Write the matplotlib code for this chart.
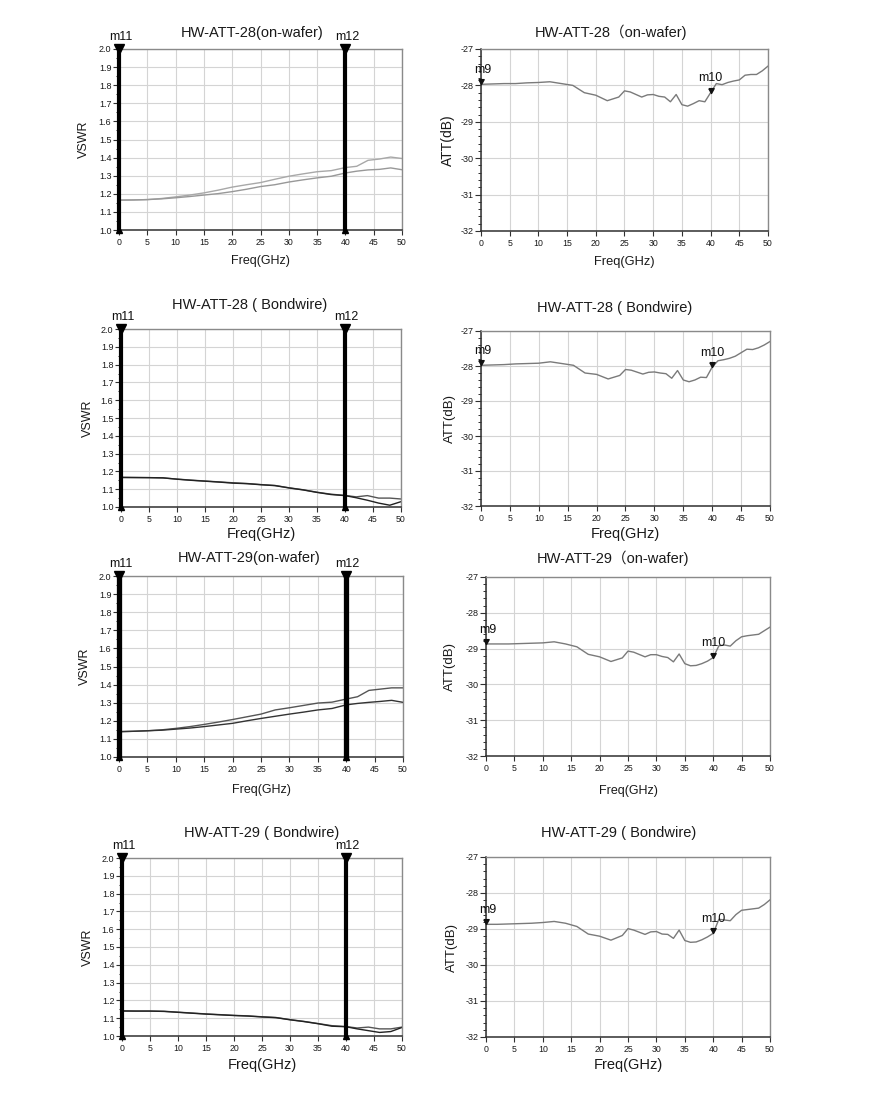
import numpy as np
import matplotlib
matplotlib.use("Agg")
import matplotlib.pyplot as plt
from matplotlib.ticker import MultipleLocator

plt.rcParams["font.family"] = ["Liberation Sans", "Noto Sans CJK SC", "DejaVu Sans"]
plt.rcParams["axes.unicode_minus"] = False

W, H = 879, 1101

# -------------------------------
# VSWR data (two traces per panel)
# -------------------------------
F_VSWR = [0, 2.5, 5, 7.5, 10, 12.5, 15, 17.5, 20, 22.5, 25, 27.5, 30,
          32.5, 35, 37.5, 40, 42, 44, 46, 48, 50]

VSWR_28_WAFER_A = [1.165, 1.166, 1.168, 1.174, 1.183, 1.193, 1.205, 1.220, 1.237, 1.250, 1.262,
                   1.280, 1.297, 1.310, 1.322, 1.328, 1.345, 1.352, 1.385, 1.392, 1.403, 1.395]
VSWR_28_WAFER_B = [1.165, 1.166, 1.168, 1.172, 1.178, 1.185, 1.193, 1.201, 1.212, 1.225, 1.240,
                   1.250, 1.265, 1.277, 1.288, 1.297, 1.315, 1.325, 1.332, 1.335, 1.343, 1.333]

VSWR_28_BOND_A = [1.165, 1.165, 1.165, 1.163, 1.157, 1.151, 1.146, 1.141, 1.136, 1.132, 1.126,
                  1.121, 1.108, 1.097, 1.083, 1.072, 1.065, 1.057, 1.064, 1.050, 1.050, 1.045]
VSWR_28_BOND_B = [1.167, 1.166, 1.165, 1.164, 1.156, 1.150, 1.145, 1.140, 1.134, 1.131, 1.125,
                  1.120, 1.107, 1.096, 1.082, 1.070, 1.064, 1.052, 1.038, 1.022, 1.010, 1.030]

VSWR_29_WAFER_A = [1.140, 1.142, 1.145, 1.150, 1.158, 1.168, 1.180, 1.193, 1.207, 1.222, 1.237,
                   1.260, 1.272, 1.285, 1.298, 1.303, 1.320, 1.333, 1.368, 1.375, 1.382, 1.382]
VSWR_29_WAFER_B = [1.140, 1.142, 1.145, 1.148, 1.154, 1.160, 1.168, 1.177, 1.186, 1.200, 1.213,
                   1.225, 1.237, 1.248, 1.260, 1.268, 1.288, 1.296, 1.302, 1.307, 1.313, 1.302]

VSWR_29_BOND_A = [1.140, 1.140, 1.140, 1.139, 1.134, 1.129, 1.124, 1.120, 1.116, 1.113, 1.108,
                  1.104, 1.092, 1.082, 1.070, 1.058, 1.053, 1.045, 1.050, 1.040, 1.040, 1.050]
VSWR_29_BOND_B = [1.141, 1.140, 1.140, 1.138, 1.133, 1.128, 1.123, 1.119, 1.115, 1.112, 1.107,
                  1.103, 1.091, 1.081, 1.069, 1.055, 1.052, 1.040, 1.030, 1.020, 1.025, 1.048]

# -------------------------------
# Attenuation data
# -------------------------------
F_ATT = [0, 2, 4, 6, 8, 10, 12, 14, 16, 18, 20, 22, 24, 25, 26, 28, 29, 30, 31, 32, 33,
         34, 35, 36, 37, 38, 39, 40, 41, 42, 43, 44, 45, 46, 47, 48, 49, 50]

ATT_28_WAFER = [-27.97, -27.96, -27.95, -27.95, -27.93, -27.92, -27.90, -27.95, -28.00, -28.20,
                -28.27, -28.42, -28.32, -28.15, -28.18, -28.32, -28.26, -28.25, -28.30, -28.32,
                -28.45, -28.25, -28.53, -28.57, -28.50, -28.42, -28.45, -28.20, -27.95, -27.98,
                -27.92, -27.88, -27.85, -27.72, -27.70, -27.70, -27.60, -27.47]
ATT_28_BOND = [-27.98, -27.97, -27.96, -27.94, -27.93, -27.92, -27.88, -27.93, -27.98, -28.20,
               -28.24, -28.37, -28.27, -28.10, -28.12, -28.23, -28.18, -28.17, -28.20, -28.22,
               -28.35, -28.13, -28.40, -28.45, -28.40, -28.32, -28.33, -28.03, -27.85, -27.82,
               -27.78, -27.72, -27.62, -27.52, -27.53, -27.48, -27.40, -27.30]
ATT_29_WAFER = [-28.87, -28.87, -28.87, -28.86, -28.85, -28.84, -28.81, -28.87, -28.95, -29.16,
                -29.23, -29.36, -29.26, -29.07, -29.10, -29.23, -29.17, -29.17, -29.22, -29.25,
                -29.37, -29.15, -29.42, -29.48, -29.47, -29.42, -29.35, -29.25, -28.92, -28.90,
                -28.93, -28.78, -28.67, -28.64, -28.62, -28.60, -28.50, -28.40]
ATT_29_BOND = [-28.87, -28.87, -28.86, -28.85, -28.84, -28.82, -28.79, -28.84, -28.93, -29.14,
               -29.20, -29.31, -29.18, -28.99, -29.03, -29.15, -29.08, -29.07, -29.14, -29.15,
               -29.26, -29.03, -29.32, -29.37, -29.36, -29.30, -29.22, -29.12, -28.73, -28.75,
               -28.77, -28.60, -28.48, -28.46, -28.44, -28.42, -28.32, -28.19]

# markers
M_VSWR = [0, 40]
M_VSWR_LABELS = ["m11", "m12"]
M_ATT = [0, 40]
M_ATT_LABELS = ["m9", "m10"]

# triangle marker whose tip sits on the data point
TIP_DOWN = [(-0.6, 1.1), (0.6, 1.1), (0, 0), (-0.6, 1.1)]

GRID_C = "#d4d4d4"
TXT_C = "#1a1a1a"


def px_axes(fig, left, top, right, bottom):
    return fig.add_axes([left / W, 1 - bottom / H, (right - left) / W, (bottom - top) / H])


def style_axes(ax, rect, xlabel_size, xlab_off, ylabel, ylabel_size, ylab_off):
    ax.set_xlim(0, 50)
    ax.xaxis.set_major_locator(MultipleLocator(5))
    ax.grid(True, which="major", color=GRID_C, linewidth=0.8)
    ax.set_axisbelow(True)
    for side in ["top", "right"]:
        ax.spines[side].set_color("#8a8a8a")
        ax.spines[side].set_linewidth(1.0)
    for side in ["left", "bottom"]:
        ax.spines[side].set_color("#303030")
        ax.spines[side].set_linewidth(1.1)
    ax.tick_params(axis="y", which="major", labelsize=6.5, length=4, width=0.8,
                   color="#303030", pad=1.5, labelcolor=TXT_C)
    ax.tick_params(axis="x", which="major", labelsize=6.3, length=3.5, width=0.8,
                   color="#303030", pad=2, labelcolor=TXT_C)
    ax.tick_params(axis="y", which="minor", length=2.2, width=0.7, color="#303030")
    ax.tick_params(axis="x", which="minor", length=0)

    ax.set_xlabel("Freq(GHz)", fontsize=xlabel_size, color=TXT_C)
    ax.xaxis.label.set_va("center")
    ax.xaxis.set_label_coords(0.5, -xlab_off / (rect[3] - rect[1]))
    ax.set_ylabel(ylabel, fontsize=ylabel_size, color=TXT_C)
    ax.yaxis.label.set_va("center")
    ax.yaxis.set_label_coords(-ylab_off / (rect[2] - rect[0]), 0.5)


def draw_title(fig, title, title_xy):
    fig.text(title_xy[0] / W, 1 - title_xy[1] / H, title, ha="center", va="center",
             fontsize=10.5, color=TXT_C)


def draw_vswr(fig, rect, title, title_xy, a, b, colors, xlabel_size, xlab_off, ylab_off,
              mlw=3.0):
    ax = px_axes(fig, *rect)
    ax.plot(F_VSWR, a, color=colors[0], linewidth=1.0)
    ax.plot(F_VSWR, b, color=colors[1], linewidth=1.0)
    ax.set_ylim(1.0, 2.0)
    ax.yaxis.set_major_locator(MultipleLocator(0.1))
    ax.yaxis.set_minor_locator(MultipleLocator(0.05))
    ax.yaxis.set_major_formatter(plt.FuncFormatter(lambda v, p: f"{v:.1f}"))
    style_axes(ax, rect, xlabel_size, xlab_off, "VSWR", 9, ylab_off)
    for xm, lab in zip(M_VSWR, M_VSWR_LABELS):
        ax.axvline(xm, color="black", linewidth=mlw, zorder=5, clip_on=False)
        ax.plot([xm], [2.0], marker="v", color="black", markersize=7, clip_on=False, zorder=6)
        ax.plot([xm], [1.0], marker="^", color="black", markersize=5, clip_on=False, zorder=6)
        ax.annotate(lab, (xm, 2.0), xytext=(1, 4.5), textcoords="offset points",
                    ha="center", va="bottom", fontsize=9, color="#111111")
    draw_title(fig, title, title_xy)
    return ax


def draw_att(fig, rect, title, title_xy, y, xlabel_size, xlab_off, ylabel_size, ylab_off):
    ax = px_axes(fig, *rect)
    ax.plot(F_ATT, y, color="#7a7a7a", linewidth=1.0)
    ax.set_ylim(-32, -27)
    ax.yaxis.set_major_locator(MultipleLocator(1))
    ax.yaxis.set_minor_locator(MultipleLocator(0.2))
    style_axes(ax, rect, xlabel_size, xlab_off, "ATT(dB)", ylabel_size, ylab_off)
    for xm, lab in zip(M_ATT, M_ATT_LABELS):
        ym = y[F_ATT.index(xm)]
        ax.plot([xm], [ym], marker=TIP_DOWN, color="#111111", markersize=7,
                clip_on=False, zorder=6, linestyle="none")
        ax.annotate(lab, (xm, ym), xytext=(1.5 if xm == 0 else 0, 6),
                    textcoords="offset points", ha="center", va="bottom",
                    fontsize=9, color="#111111")
    draw_title(fig, title, title_xy)
    return ax


def main():
    fig = plt.figure(figsize=(W / 100, H / 100), dpi=100)
    fig.patch.set_facecolor("white")

    # row 1
    draw_vswr(fig, (119, 49, 402, 230), "HW-ATT-28(on-wafer)", (252, 33),
              VSWR_28_WAFER_A, VSWR_28_WAFER_B, ("#a8a8a8", "#989898"), 9, 31, 35)
    draw_att(fig, (481, 49, 768, 231), "HW-ATT-28\uff08on-wafer)", (611, 32),
             ATT_28_WAFER, 9.3, 31, 10, 33)

    # row 2
    draw_vswr(fig, (121, 329, 401, 507), "HW-ATT-28 ( Bondwire)", (250, 305),
              VSWR_28_BOND_A, VSWR_28_BOND_B, ("#555555", "#222222"), 10.5, 27, 33)
    draw_att(fig, (481, 331, 770, 506), "HW-ATT-28 ( Bondwire)", (615, 308),
             ATT_28_BOND, 10.5, 28, 9.5, 31)

    # row 3
    draw_vswr(fig, (119, 576, 403, 757), "HW-ATT-29(on-wafer)", (249, 558),
              VSWR_29_WAFER_A, VSWR_29_WAFER_B, ("#555555", "#333333"), 9, 33, 34, mlw=3.8)
    draw_att(fig, (486, 577, 770, 756), "HW-ATT-29\uff08on-wafer)", (613, 558),
             ATT_29_WAFER, 9, 35, 9.5, 36)

    # row 4
    draw_vswr(fig, (122, 858, 402, 1036), "HW-ATT-29 ( Bondwire)", (262, 833),
              VSWR_29_BOND_A, VSWR_29_BOND_B, ("#555555", "#222222"), 10.5, 29, 34)
    draw_att(fig, (486, 857, 770, 1037), "HW-ATT-29 ( Bondwire)", (619, 833),
             ATT_29_BOND, 10.5, 28, 9.5, 34)

    fig.savefig("out.png", dpi=100)
    plt.close(fig)


if __name__ == "__main__":
    main()
